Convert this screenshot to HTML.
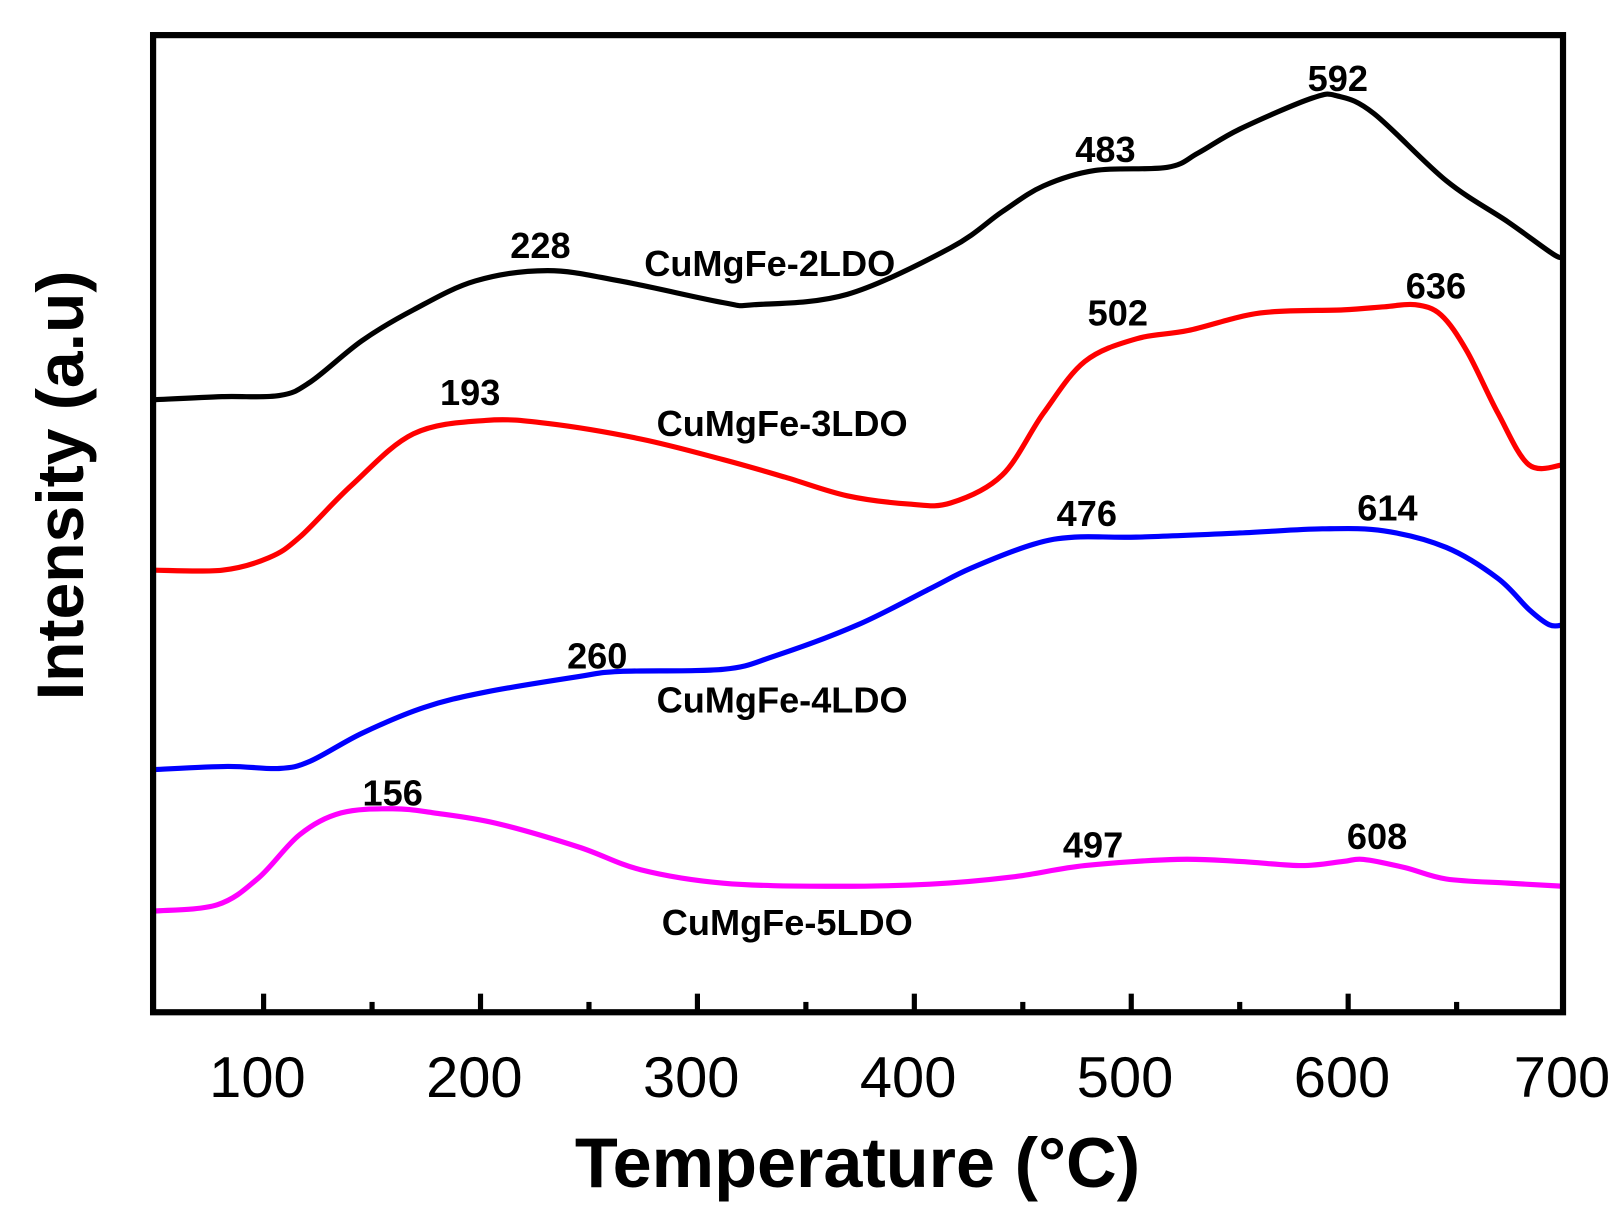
<!DOCTYPE html>
<html><head><meta charset="utf-8"><style>html,body{margin:0;padding:0;background:#fff}svg{display:block}</style></head>
<body>
<svg id="s" width="1619" height="1224" viewBox="0 0 1567 1185" xmlns="http://www.w3.org/2000/svg" font-family="Liberation Sans, Arial, sans-serif">
<rect width="1567" height="1185" fill="#fff"/>
<g fill="none" stroke-width="5" stroke-linejoin="round" stroke-linecap="round">
<polyline class="c" stroke="#000" points="150,387 215,384 270,383 300,370 350,330 400,300 460,272 530,262 600,272 700,293 730,295 820,285 920,240 970,205 1010,180 1060,165 1130,162 1160,148 1200,125 1270,95 1295,93 1330,110 1400,175 1460,215 1505,247 1513,247"/>
<polyline class="c" stroke="#ff0000" points="150,552 215,552 260,540 290,520 340,470 400,420 470,407 530,410 620,425 700,445 760,462 820,480 880,488 920,487 970,460 1010,400 1050,350 1100,328 1150,320 1220,303 1300,300 1340,297 1370,295 1395,305 1420,340 1450,400 1480,450 1513,450"/>
<polyline class="c" stroke="#0000ff" points="150,745 220,742 270,744 300,737 350,710 410,685 470,670 560,655 600,650 700,648 750,635 830,605 900,570 940,550 1000,527 1040,520 1100,520 1200,516 1280,512 1340,514 1400,530 1450,560 1480,590 1500,605 1513,605"/>
<polyline class="c" stroke="#ff00ff" points="150,882 210,876 250,850 290,808 330,787 380,783 420,787 480,797 560,820 620,842 700,855 800,858 900,856 980,849 1050,838 1140,832 1200,834 1260,838 1300,834 1320,832 1360,840 1400,851 1460,855 1513,858"/>
</g>
<g stroke="#000" stroke-width="6" fill="none">
<rect x="148" y="34" width="1365" height="946"/>
</g>
<g stroke="#000" stroke-width="5">
<line x1="255" y1="980" x2="255" y2="962"/><line x1="465" y1="980" x2="465" y2="962"/><line x1="675" y1="980" x2="675" y2="962"/><line x1="885" y1="980" x2="885" y2="962"/><line x1="1095" y1="980" x2="1095" y2="962"/><line x1="1305" y1="980" x2="1305" y2="962"/>
<line x1="360" y1="980" x2="360" y2="970"/><line x1="570" y1="980" x2="570" y2="970"/><line x1="780" y1="980" x2="780" y2="970"/><line x1="990" y1="980" x2="990" y2="970"/><line x1="1200" y1="980" x2="1200" y2="970"/><line x1="1410" y1="980" x2="1410" y2="970"/>
</g>
<g font-size="56" text-anchor="middle" fill="#000">
<text x="249" y="1062">100</text><text x="459" y="1062">200</text><text x="669" y="1062">300</text><text x="879" y="1062">400</text><text x="1089" y="1062">500</text><text x="1299" y="1062">600</text><text x="1512" y="1062">700</text>
</g>
<text x="830" y="1149" font-size="68" font-weight="bold" text-anchor="middle">Temperature (°C)</text>
<text transform="translate(80,470) rotate(-90)" font-size="64" font-weight="bold" text-anchor="middle">Intensity (a.u)</text>
<g font-size="35" font-weight="bold" text-anchor="middle" fill="#000">
<text x="523" y="250">228</text><text x="745" y="267">CuMgFe-2LDO</text><text x="1070" y="157">483</text><text x="1295" y="88">592</text>
<text x="1082" y="315">502</text><text x="1390" y="289">636</text><text x="455" y="392">193</text><text x="757" y="422">CuMgFe-3LDO</text>
<text x="1052" y="509">476</text><text x="1343" y="504">614</text><text x="578" y="647">260</text><text x="757" y="690">CuMgFe-4LDO</text>
<text x="380" y="780">156</text><text x="1058" y="830">497</text><text x="1333" y="822">608</text><text x="762" y="905">CuMgFe-5LDO</text>
</g>
</svg>
<script>
document.querySelectorAll('polyline.c').forEach(function(pl){
 var p=pl.getAttribute('points').trim().split(/\s+/).map(function(s){return s.split(',').map(Number)});
 var d='M'+p[0][0]+','+p[0][1];
 for(var i=0;i<p.length-1;i++){
  var p0=p[i-1]||p[i],p1=p[i],p2=p[i+1],p3=p[i+2]||p2;
  var c1=[p1[0]+(p2[0]-p0[0])/6,p1[1]+(p2[1]-p0[1])/6],c2=[p2[0]-(p3[0]-p1[0])/6,p2[1]-(p3[1]-p1[1])/6];
  d+=' C'+c1[0]+','+c1[1]+' '+c2[0]+','+c2[1]+' '+p2[0]+','+p2[1];
 }
 var path=document.createElementNS('http://www.w3.org/2000/svg','path');
 path.setAttribute('d',d);path.setAttribute('stroke',pl.getAttribute('stroke'));
 pl.parentNode.replaceChild(path,pl);
});
</script>
</body></html>
